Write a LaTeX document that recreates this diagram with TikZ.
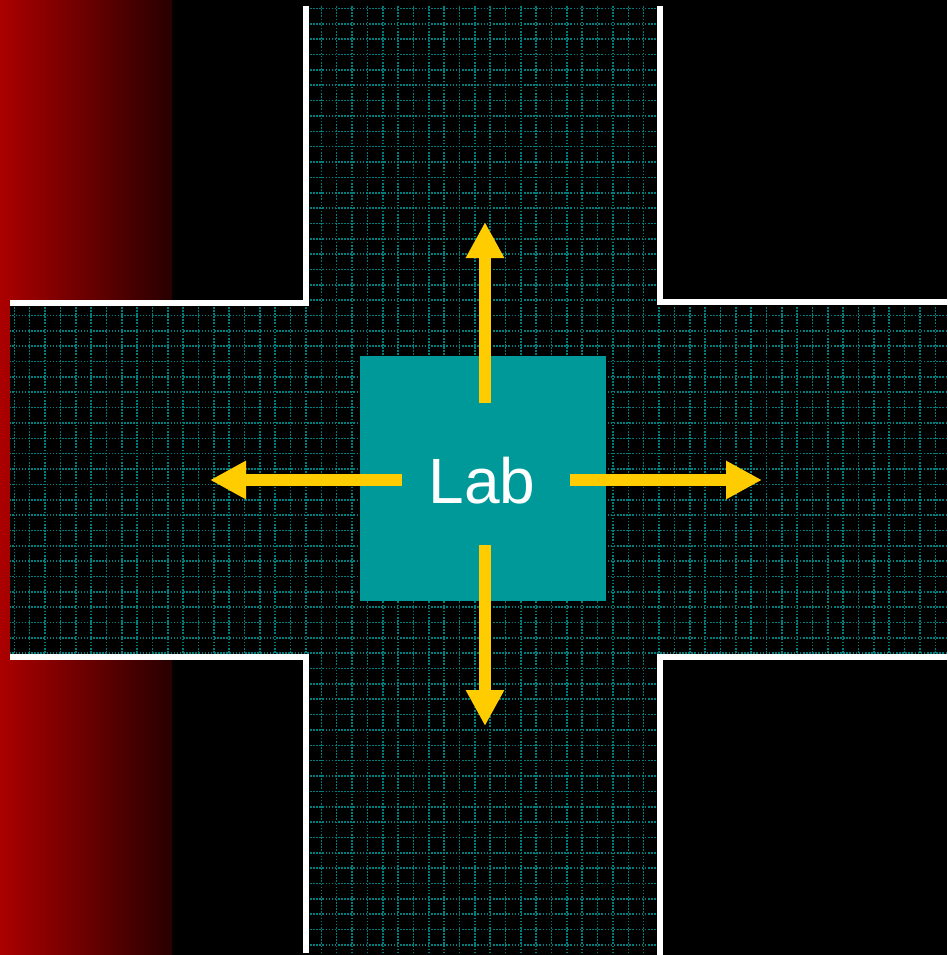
\documentclass[tikz,border=0pt]{standalone}
\usepackage{fontspec}
\setmainfont{Liberation Sans}
\usetikzlibrary{arrows.meta}
\definecolor{labteal}{RGB}{0,153,153}
\definecolor{gridteal}{RGB}{0,125,125}
\definecolor{arrowyellow}{RGB}{255,204,0}
\definecolor{redL}{RGB}{172,0,0}
\definecolor{redR}{RGB}{40,0,0}
\tikzset{
  gridline/.style={draw=gridteal,line width=1.6pt,dash pattern=on 1.6pt off 1.5pt},
  wall/.style={draw=white,line width=6pt,line join=miter},
  moveto/.style={draw=arrowyellow,line width=12pt,-{Triangle[length=36pt,width=36pt]}},
  labbox/.style={fill=labteal,minimum width=246pt,minimum height=245pt,inner sep=0pt,draw=none},
}
\begin{document}
\begin{tikzpicture}[x=1pt,y=-1pt]
\useasboundingbox (0,0) rectangle (947,955);
\fill[black] (0,0) rectangle (947,955);
\shade[left color=redL,right color=redR] (0,0) rectangle (172,955);
% cross floor
\fill[black] (306,6) rectangle (660,955);
\fill[black] (10,303) rectangle (947,657);
\begin{scope}
  \clip (306,6) rectangle (660,955) (10,303) rectangle (947,657);
  \foreach \i in {-1,...,61} \draw[gridline] ({14.3+15.35*\i},0) -- ({14.3+15.35*\i},955);
  \foreach \i in {0,...,62} \draw[gridline] (0,{8.5+15.35*\i}) -- (947,{8.5+15.35*\i});
\end{scope}
% walls
\draw[wall] (306,6) -- (306,303) -- (10,303);
\draw[wall] (660,6) -- (660,302) -- (947,302);
\draw[wall] (10,657) -- (306,657) -- (306,953);
\draw[wall] (947,657) -- (660,657) -- (660,955);
% lab
\node[labbox] (lab) at (483,478.5) {};
\node[text=white,font=\fontsize{64}{64}\selectfont,inner sep=0pt,anchor=base] (labtext) at (482,503) {Lab};
% arrows
\coordinate (us) at (485,403);
\coordinate (ue) at (485,222);
\coordinate (ds) at (485,545);
\coordinate (de) at (485,726);
\coordinate (ls) at (402,480);
\coordinate (le) at (210,480);
\coordinate (rs) at (570,480);
\coordinate (re) at (762,480);
\draw[moveto] (us) -- (ue);
\draw[moveto] (ds) -- (de);
\draw[moveto] (ls) -- (le);
\draw[moveto] (rs) -- (re);
\end{tikzpicture}
\end{document}
